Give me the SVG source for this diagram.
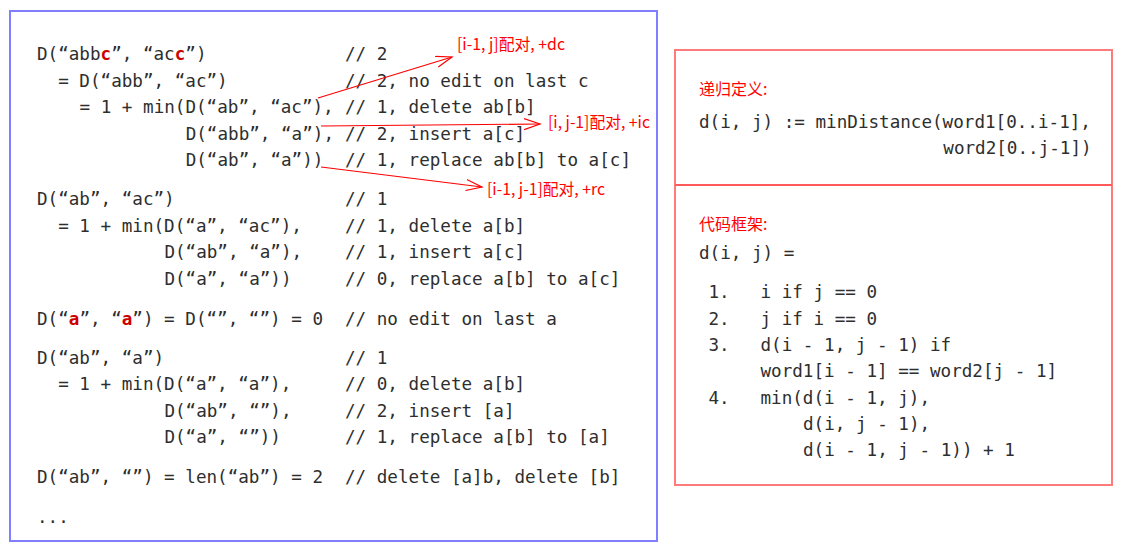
<svg xmlns="http://www.w3.org/2000/svg" width="1129" height="545" viewBox="0 0 1129 545">
<defs>
<style>
.code{font-family:"DejaVu Sans Mono","Liberation Mono",monospace;font-size:17.6px;fill:#2e2e2e;}
.hl{fill:#cc0000;font-weight:bold;}
.lbl{font-family:"Noto Sans CJK SC","Noto Sans",sans-serif;font-size:16px;fill:#ff0000;}
.arrow{fill:none;stroke:#ff0000;stroke-width:1.2;marker-end:url(#open);}
</style>
<marker id="open" markerUnits="userSpaceOnUse" markerWidth="18" markerHeight="14" refX="16" refY="6" orient="auto">
<path d="M0,0.5 L16,6 L0,11.5" fill="none" stroke="#ff0000" stroke-width="1.2"/>
</marker>
</defs>
<rect width="1129" height="545" fill="#ffffff"/>

<g id="code-panel">
<rect x="10" y="11" width="647" height="530" fill="#ffffff" stroke="#7f7fff" stroke-width="2"/>
<text class="code" x="37" y="60">D(“abb<tspan class="hl">c</tspan>”, “ac<tspan class="hl">c</tspan>”)</text>
<text class="code" x="345" y="60">// 2</text>
<text class="code" x="58.2" y="87">= D(“abb”, “ac”)</text>
<text class="code" x="345" y="87">// 2, no edit on last c</text>
<text class="code" x="79.5" y="113">= 1 + min(D(“ab”, “ac”),</text>
<text class="code" x="345" y="113">// 1, delete ab[b]</text>
<text class="code" x="185.7" y="140">D(“abb”, “a”),</text>
<text class="code" x="345" y="140">// 2, insert a[c]</text>
<text class="code" x="185.7" y="166">D(“ab”, “a”))</text>
<text class="code" x="345" y="166">// 1, replace ab[b] to a[c]</text>

<text class="code" x="37" y="205">D(“ab”, “ac”)</text>
<text class="code" x="345" y="205">// 1</text>
<text class="code" x="58.2" y="232">= 1 + min(D(“a”, “ac”),</text>
<text class="code" x="345" y="232">// 1, delete a[b]</text>
<text class="code" x="164.4" y="258">D(“ab”, “a”),</text>
<text class="code" x="345" y="258">// 1, insert a[c]</text>
<text class="code" x="164.4" y="285">D(“a”, “a”))</text>
<text class="code" x="345" y="285">// 0, replace a[b] to a[c]</text>

<text class="code" x="37" y="325">D(“<tspan class="hl">a</tspan>”, “<tspan class="hl">a</tspan>”) = D(“”, “”) = 0</text>
<text class="code" x="345" y="325">// no edit on last a</text>

<text class="code" x="37" y="364">D(“ab”, “a”)</text>
<text class="code" x="345" y="364">// 1</text>
<text class="code" x="58.2" y="390">= 1 + min(D(“a”, “a”),</text>
<text class="code" x="345" y="390">// 0, delete a[b]</text>
<text class="code" x="164.4" y="417">D(“ab”, “”),</text>
<text class="code" x="345" y="417">// 2, insert [a]</text>
<text class="code" x="164.4" y="443">D(“a”, “”))</text>
<text class="code" x="345" y="443">// 1, replace a[b] to [a]</text>

<text class="code" x="37" y="483">D(“ab”, “”) = len(“ab”) = 2</text>
<text class="code" x="345" y="483">// delete [a]b, delete [b]</text>
<text class="code" x="37" y="523">...</text>
</g>

<g id="definition-panel">
<rect x="675" y="50" width="437" height="435" fill="#ffffff" stroke="#ff7a7a" stroke-width="2"/>
<line x1="675" y1="185" x2="1112" y2="185" stroke="#ff5a5a" stroke-width="2"/>
<text class="lbl" x="699" y="95">递归定义:</text>
<text class="code" x="699" y="128">d(i, j) := minDistance(word1[0..i-1],</text>
<text class="code" x="943.3" y="154">word2[0..j-1])</text>
</g>

<g id="framework-panel">
<text class="lbl" x="699" y="230">代码框架:</text>
<text class="code" x="699" y="259">d(i, j) =</text>
<text class="code" x="708.5" y="298">1.</text>
<text class="code" x="760.5" y="298">i if j == 0</text>
<text class="code" x="708.5" y="325">2.</text>
<text class="code" x="760.5" y="325">j if i == 0</text>
<text class="code" x="708.5" y="351">3.</text>
<text class="code" x="760.5" y="351">d(i - 1, j - 1) if</text>
<text class="code" x="760.5" y="377">word1[i - 1] == word2[j - 1]</text>
<text class="code" x="708.5" y="404">4.</text>
<text class="code" x="760.5" y="404">min(d(i - 1, j),</text>
<text class="code" x="803" y="430">d(i, j - 1),</text>
<text class="code" x="803" y="456">d(i - 1, j - 1)) + 1</text>
</g>

<g id="connectors">
<line class="arrow" x1="318" y1="98" x2="452" y2="57"/>
<line class="arrow" x1="321" y1="126" x2="540" y2="124"/>
<line class="arrow" x1="321" y1="167" x2="482" y2="187"/>
</g>

<g id="arrow-labels">
<text class="lbl" x="457" y="50" textLength="108" lengthAdjust="spacingAndGlyphs">[i-1, j]配对, +dc</text>
<text class="lbl" x="548" y="128" textLength="102" lengthAdjust="spacingAndGlyphs">[i, j-1]配对, +ic</text>
<text class="lbl" x="487" y="195" textLength="118" lengthAdjust="spacingAndGlyphs">[i-1, j-1]配对, +rc</text>
</g>
</svg>
